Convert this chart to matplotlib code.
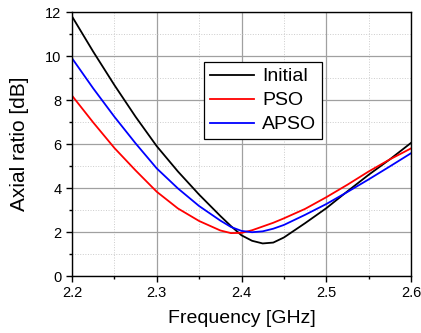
import matplotlib
matplotlib.use("Agg")
import matplotlib.pyplot as plt
from matplotlib.ticker import MultipleLocator

plt.rcParams['font.family'] = ['Liberation Sans', 'DejaVu Sans']

# frequency samples [GHz]
freq = [2.2, 2.225, 2.25, 2.275, 2.3, 2.325, 2.35, 2.375, 2.3875, 2.4, 2.4125,
        2.425, 2.4375, 2.45, 2.475, 2.5, 2.525, 2.55, 2.575, 2.6]
# axial ratio [dB]
ar_initial = [11.8, 10.2, 8.68, 7.24, 5.9, 4.75, 3.7, 2.73, 2.27, 1.85, 1.6,
              1.48, 1.52, 1.75, 2.4, 3.08, 3.85, 4.6, 5.3, 6.05]
ar_pso = [8.2, 6.98, 5.82, 4.8, 3.83, 3.07, 2.5, 2.07, 1.95, 1.96, 2.08,
          2.25, 2.42, 2.62, 3.05, 3.58, 4.15, 4.75, 5.3, 5.8]
ar_apso = [9.9, 8.53, 7.24, 6.03, 4.89, 3.98, 3.18, 2.52, 2.23, 2.05, 1.99,
           2.03, 2.15, 2.32, 2.78, 3.27, 3.82, 4.39, 4.98, 5.58]

fig = plt.figure(figsize=(4.21, 3.33), dpi=100)
ax = fig.add_axes([72/421, 1-276/333, 339/421, 264/333])

ax.plot(freq, ar_initial, color='black', lw=1.3, label='Initial')
ax.plot(freq, ar_pso, color='red', lw=1.3, label='PSO')
ax.plot(freq, ar_apso, color='blue', lw=1.3, label='APSO')

ax.set_xlim(2.2, 2.6)
ax.set_ylim(0, 12)
ax.xaxis.set_major_locator(MultipleLocator(0.1))
ax.xaxis.set_minor_locator(MultipleLocator(0.05))
ax.yaxis.set_major_locator(MultipleLocator(2))
ax.yaxis.set_minor_locator(MultipleLocator(1))
ax.grid(which='major', color='#a0a0a0', lw=0.9, ls='-')
ax.grid(which='minor', color='#cccccc', lw=0.7, ls=':')
ax.set_axisbelow(True)
ax.tick_params(which='major', direction='out', length=4, width=1, labelsize=10.5, pad=3.5)
ax.tick_params(which='minor', direction='out', length=2.5, width=1)
for s in ax.spines.values():
    s.set_linewidth(1)

ax.set_xlabel('Frequency [GHz]', fontsize=14, labelpad=7)
ax.set_ylabel('Axial ratio [dB]', fontsize=15, labelpad=12)

leg = ax.legend(loc='upper left', bbox_to_anchor=(0.389, 0.811), borderaxespad=0,
                fontsize=14, fancybox=False, edgecolor='black', framealpha=1,
                handlelength=2.3, handletextpad=0.4, labelspacing=0.33,
                borderpad=0.3)
leg.get_frame().set_linewidth(0.9)

fig.savefig('out.png', dpi=100)
